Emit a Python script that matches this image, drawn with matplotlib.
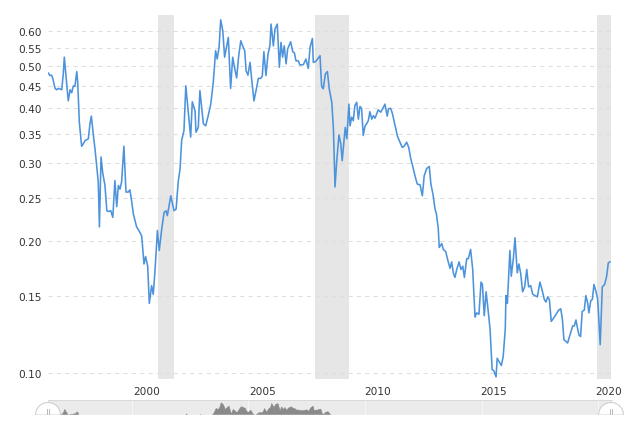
import matplotlib
matplotlib.use("Agg")
import matplotlib.pyplot as plt
from matplotlib.patches import Wedge
from matplotlib.ticker import FixedLocator, NullLocator

# decimal year, monthly-ish values
years = [1995.73,1995.80,1995.87,1995.92,1996.02,1996.09,1996.16,1996.23,1996.31,1996.38,
         1996.42,1996.49,1996.59,1996.67,1996.74,1996.81,1996.88,1996.96,1997.00,1997.07,
         1997.17,1997.24,1997.32,1997.46,1997.53,1997.59,1997.68,1997.75,1997.82,1997.89,
         1997.94,1998.01,1998.08,1998.18,1998.26,1998.32,1998.43,1998.52,1998.61,1998.69,
         1998.76,1998.83,1998.90,1999.00,1999.09,1999.19,1999.26,1999.34,1999.41,1999.55,
         1999.67,1999.77,1999.87,1999.94,2000.03,2000.10,2000.20,2000.27,2000.35,2000.45,
         2000.53,2000.64,2000.74,2000.82,2000.88,2001.03,2001.17,2001.26,2001.35,2001.43,
         2001.50,2001.60,2001.68,2001.79,2001.89,2001.96,2002.08,2002.12,2002.22,2002.29,
         2002.44,2002.54,2002.65,2002.76,2002.87,2002.97,2003.04,2003.12,2003.19,2003.28,
         2003.36,2003.45,2003.52,2003.62,2003.71,2003.80,2003.88,2003.97,2004.06,2004.14,
         2004.23,2004.29,2004.37,2004.46,2004.53,2004.63,2004.75,2004.82,2004.92,2004.99,
         2005.06,2005.15,2005.24,2005.32,2005.37,2005.47,2005.54,2005.64,2005.73,2005.80,
         2005.87,2005.94,2006.02,2006.09,2006.22,2006.31,2006.38,2006.45,2006.55,2006.62,
         2006.77,2006.88,2006.98,2007.06,2007.16,2007.20,2007.30,2007.49,2007.56,2007.63,
         2007.72,2007.81,2007.89,2008.00,2008.07,2008.14,2008.21,2008.31,2008.39,2008.45,
         2008.53,2008.58,2008.65,2008.74,2008.79,2008.86,2008.93,2009.00,2009.08,2009.15,
         2009.22,2009.29,2009.36,2009.44,2009.51,2009.58,2009.65,2009.73,2009.80,2009.87,
         2009.94,2010.01,2010.12,2010.20,2010.30,2010.40,2010.45,2010.55,2010.62,2010.74,
         2010.84,2010.95,2011.05,2011.13,2011.24,2011.33,2011.42,2011.50,2011.60,2011.70,
         2011.82,2011.92,2012.00,2012.11,2012.22,2012.29,2012.38,2012.47,2012.53,2012.61,
         2012.65,2012.76,2012.83,2012.93,2013.04,2013.12,2013.19,2013.26,2013.33,2013.41,
         2013.51,2013.59,2013.67,2013.74,2013.84,2013.91,2014.01,2014.10,2014.20,2014.27,
         2014.37,2014.46,2014.52,2014.60,2014.68,2014.76,2014.85,2014.94,2015.02,2015.11,
         2015.16,2015.25,2015.34,2015.42,2015.51,2015.54,2015.60,2015.71,2015.77,2015.86,
         2015.93,2016.03,2016.10,2016.18,2016.26,2016.35,2016.44,2016.52,2016.61,2016.70,
         2016.80,2016.90,2017.01,2017.11,2017.20,2017.27,2017.35,2017.42,2017.50,2017.59,
         2017.71,2017.82,2017.91,2017.98,2018.05,2018.14,2018.21,2018.31,2018.43,2018.50,
         2018.57,2018.63,2018.70,2018.77,2018.84,2018.93,2019.00,2019.08,2019.13,2019.21,
         2019.28,2019.35,2019.44,2019.51,2019.62,2019.71,2019.81,2019.90,2019.97,2020.04]
values = [0.481,0.475,0.476,0.468,0.444,0.441,0.444,0.443,0.441,0.483,
          0.523,0.475,0.416,0.441,0.434,0.450,0.449,0.485,0.459,0.372,
          0.328,0.332,0.338,0.341,0.369,0.384,0.347,0.323,0.296,0.272,
          0.215,0.310,0.286,0.267,0.234,0.233,0.234,0.226,0.274,0.239,
          0.267,0.262,0.272,0.328,0.258,0.258,0.261,0.245,0.230,0.215,
          0.210,0.205,0.177,0.184,0.175,0.144,0.158,0.151,0.172,0.211,
          0.190,0.213,0.232,0.234,0.228,0.253,0.234,0.236,0.272,0.291,
          0.338,0.356,0.450,0.392,0.344,0.414,0.395,0.353,0.362,0.439,
          0.369,0.365,0.385,0.409,0.459,0.541,0.518,0.551,0.636,0.601,
          0.523,0.555,0.580,0.444,0.523,0.492,0.469,0.527,0.570,0.555,
          0.541,0.487,0.476,0.509,0.467,0.416,0.447,0.468,0.468,0.473,
          0.538,0.475,0.532,0.555,0.622,0.555,0.606,0.622,0.496,0.565,
          0.523,0.555,0.505,0.546,0.567,0.538,0.535,0.513,0.513,0.502,
          0.503,0.518,0.493,0.551,0.577,0.509,0.511,0.527,0.449,0.443,
          0.479,0.485,0.443,0.413,0.359,0.265,0.302,0.348,0.332,0.304,
          0.338,0.362,0.341,0.409,0.365,0.382,0.375,0.406,0.413,0.378,
          0.404,0.400,0.347,0.365,0.369,0.375,0.393,0.378,0.385,0.380,
          0.388,0.397,0.392,0.399,0.409,0.384,0.399,0.400,0.390,0.365,
          0.346,0.335,0.326,0.328,0.335,0.326,0.307,0.296,0.281,0.269,
          0.268,0.253,0.281,0.292,0.295,0.269,0.255,0.236,0.230,0.213,
          0.193,0.197,0.191,0.189,0.179,0.173,0.179,0.169,0.165,0.172,
          0.179,0.172,0.175,0.165,0.182,0.182,0.191,0.172,0.134,0.137,
          0.136,0.161,0.159,0.135,0.153,0.140,0.126,0.102,0.101,0.098,
          0.108,0.106,0.104,0.109,0.126,0.150,0.144,0.190,0.166,0.182,
          0.203,0.169,0.177,0.168,0.153,0.157,0.172,0.157,0.158,0.151,
          0.150,0.149,0.161,0.154,0.147,0.145,0.149,0.147,0.131,0.133,
          0.136,0.139,0.140,0.133,0.119,0.118,0.117,0.122,0.128,0.128,
          0.132,0.127,0.122,0.121,0.138,0.139,0.150,0.144,0.137,0.146,
          0.147,0.159,0.153,0.147,0.116,0.157,0.159,0.166,0.178,0.179]

recessions = [(2000.48, 2001.15), (2007.27, 2008.76), (2019.49, 2020.09)]
y_ticks = [0.10, 0.15, 0.20, 0.25, 0.30, 0.35, 0.40, 0.45, 0.50, 0.55, 0.60]
x_ticks = [2000, 2005, 2010, 2015, 2020]
nav_grid = [1999.34, 2004.37, 2009.44, 2014.50, 2019.52]

W, H = 640, 439
fig = plt.figure(figsize=(W / 100, H / 100), dpi=100)
fig.patch.set_facecolor("white")

def px_axes(x0, y0, x1, y1):
    return fig.add_axes([x0 / W, 1 - y1 / H, (x1 - x0) / W, (y1 - y0) / H])

ax = px_axes(48, 16, 611, 380)
ax.set_yscale("log")
ax.set_xlim(1995.714, 2020.087)
ax.set_ylim(0.0969, 0.6523)

for a, b in recessions:
    ax.axvspan(a, b, color="#e6e6e6", lw=0, zorder=0)
for t in y_ticks:
    ax.axhline(t, color="#dedede", lw=0.75, dashes=(4, 4), zorder=1)

ax.plot(years, values, color="#4d93dc", lw=1.15, zorder=3)

ax.yaxis.set_major_locator(FixedLocator(y_ticks))
ax.yaxis.set_minor_locator(NullLocator())
ax.set_yticklabels([f"{t:.2f}" for t in y_ticks])
ax.xaxis.set_major_locator(FixedLocator(x_ticks))
ax.xaxis.set_minor_locator(NullLocator())
ax.set_xticklabels([str(t) for t in x_ticks])
ax.tick_params(axis="both", length=0, labelsize=7.6, labelcolor="#333333")
ax.tick_params(axis="y", pad=4.5)
ax.tick_params(axis="x", pad=5)
for s in ax.spines.values():
    s.set_visible(False)

# navigator strip (cut off at the bottom of the screenshot)
nav = px_axes(48, 401, 611.5, 416)
nav.set_facecolor("#ebebeb")
nav.set_xlim(1995.714, 2020.087)
nav.set_ylim(0.423, 0.675)
nav.fill_between(years, values, 0, color="#8a8a8a", lw=0.5, zorder=2)
for g in nav_grid:
    nav.axvline(g, color="#f6f6f6", lw=0.8, zorder=1)
nav.set_xticks([])
nav.set_yticks([])
for s in nav.spines.values():
    s.set_visible(False)
nav.spines["top"].set_visible(True)
nav.spines["top"].set_color("#d6d6d6")
nav.spines["top"].set_linewidth(0.6)

# handles of the navigator
ov = fig.add_axes([0, 0, 1, 1], facecolor="none")
ov.set_xlim(0, W)
ov.set_ylim(H, 0)
ov.axis("off")
for cx in (48, 611):
    ov.add_patch(Wedge((cx, 416), 12.5, 180, 360, facecolor="white",
                       edgecolor="#cfcfcf", lw=0.8, zorder=5))
    for dx in (-1.3, 1.3):
        ov.plot([cx + dx, cx + dx], [410, 415], color="#aaaaaa", lw=0.6, zorder=6)
ov.fill_between([0, W], 416.5, H, color="white", zorder=7)

fig.savefig("out.png", dpi=100)
